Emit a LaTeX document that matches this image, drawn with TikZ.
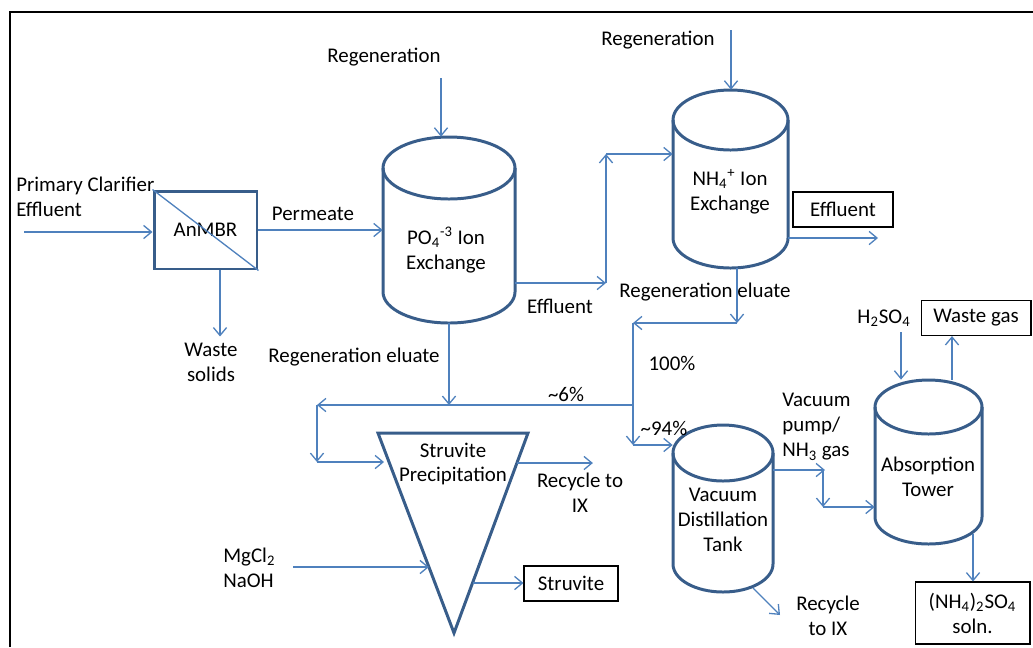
\documentclass[tikz,border=0pt]{standalone}
\usepackage{fontspec}
\setmainfont{Carlito}
\usepackage{tikz}
\usetikzlibrary{arrows.meta,positioning,calc,fit}
\definecolor{flowblue}{HTML}{4F81BD}
\definecolor{vesselblue}{HTML}{385D8A}
\tikzset{
  every node/.append style={font=\fontsize{11.9}{14.2}\selectfont},
}
\tikzset{
  flow/.style={-{Straight Barb[length=4.5pt, width=7.5pt]}, draw=flowblue, line width=0.75pt},
  vessel/.style={draw=vesselblue, line width=1.7pt},
  lbl/.style={align=center, inner sep=0pt},
  outbox/.style={draw=black, line width=0.6pt, align=center, inner sep=2pt}
}
% cylinder: name, cx, top-centre y, bottom-centre y, rx, ry
\newcommand{\vessel}[6]{%
  \draw[vessel] (#2,#3) ellipse[x radius=#5, y radius=#6];
  \draw[vessel] (#2-#5,#3) -- (#2-#5,#4) arc[start angle=180, end angle=360, x radius=#5, y radius=#6] -- (#2+#5,#3);
  \node[fit={(#2-#5,#3+#6) (#2+#5,#4-#6)}, inner sep=0pt] (#1) {};
}

\begin{document}
\begin{tikzpicture}[x=0.02cm, y=0.02cm]
\useasboundingbox (0,0) rectangle (1033,-647);
\draw[line width=1.1pt] (10,-647) -- (10,-12) -- (1033,-12);

% units
\node[vessel, minimum width=2.06cm, minimum height=1.56cm, inner sep=0pt] (anmbr) at (205.5,-230) {AnMBR};
\draw[draw=flowblue, line width=0.75pt] (anmbr.north west) -- (anmbr.south east);
\vessel{po}{449}{-168}{-292}{66}{31}
\vessel{nh}{730.5}{-120}{-238}{57.5}{30}
\vessel{vdt}{723}{-453}{-564}{50}{28}
\vessel{abs}{928.5}{-407}{-517}{53.5}{27}
\coordinate (triA) at (378,-433);
\coordinate (triB) at (528,-433);
\coordinate (triC) at (454,-633);
\draw[vessel] (triA) -- (triB) -- (triC) -- cycle;

% labels
\node[lbl, align=left, anchor=west] (pce) at (16,-197) {Primary Clarifier\\Effluent};
\node[lbl] (waste) at (211,-362) {Waste\\solids};
\node[lbl] (perm) at (313,-214) {Permeate};
\node[lbl] (regA) at (384,-57) {Regeneration};
\node[lbl] (regB) at (658,-40) {Regeneration};
\node[lbl] (poTxt) at (446,-250) {PO\textsubscript{4}\textsuperscript{-3} Ion\\Exchange};
\node[lbl] (nhTxt) at (730,-192) {NH\textsubscript{4}\textsuperscript{+} Ion\\Exchange};
\node[lbl] (effA) at (560,-306) {Effluent};
\node[outbox, minimum width=2cm, minimum height=0.7cm] (effB) at (843,-209.5) {Effluent};
\node[lbl] (eluA) at (354,-357) {Regeneration eluate};
\node[lbl] (eluB) at (705,-292) {Regeneration eluate};
\node[lbl] (pc6) at (566,-394) {\textasciitilde6\%};
\node[lbl] (pc100) at (672,-363) {100\%};
\node[lbl] (pc94) at (664,-428) {\textasciitilde94\%};
\node[lbl] (strTxt) at (453,-464) {Struvite\\Precipitation};
\node[lbl] (recA) at (580,-493) {Recycle to\\IX};
\node[lbl, align=left, anchor=west] (chem) at (223,-568) {MgCl\textsubscript{2}\\NaOH};
\node[outbox, minimum width=1.88cm, minimum height=0.7cm] (stru) at (571,-583.5) {Struvite};
\node[lbl] (vdtTxt) at (723,-520) {Vacuum\\Distillation\\Tank};
\node[lbl] (recB) at (828,-616) {Recycle\\to IX};
\node[lbl, align=left, anchor=west] (vac) at (782,-427) {Vacuum\\pump/\\NH\textsubscript{3} gas};
\node[lbl] (absTxt) at (928,-477) {Absorption\\Tower};
\node[lbl] (acid) at (884,-318) {H\textsubscript{2}SO\textsubscript{4}};
\node[outbox, minimum width=2.2cm, minimum height=0.7cm] (wgas) at (976,-318) {Waste gas};
\node[outbox, minimum width=2.3cm, minimum height=1.24cm] (amsul) at (972.5,-613) {(NH\textsubscript{4})\textsubscript{2}SO\textsubscript{4}\\soln.};

% connectors
\coordinate (feed) at (24,-232);
\draw[flow] (feed) -- (feed -| anmbr.west);
\draw[flow] ([xshift=0.29cm]anmbr.south) -- ++(0,-66);
\draw[flow] (anmbr.east) -- (anmbr.east -| po.west);
\coordinate (regAin) at (441,-78);
\draw[flow] (regAin) -- (regAin |- po.north);
\coordinate (j1) at (606,-283);
\coordinate (j2) at (606,-154);
\draw[flow] (j1 -| po.east) -- (j1);
\draw[flow] (j1) -- (j2);
\draw[flow] (j2) -- (j2 -| nh.west);
\coordinate (regBin) at (731,-30);
\draw[flow] (regBin) -- (regBin |- nh.north);
\coordinate (effOut) at (878,-238);
\draw[flow] (effOut -| nh.east) -- (effOut);
\coordinate (j3) at (737,-323);
\coordinate (j4) at (633,-323);
\coordinate (j5) at (633,-445);
\draw[flow] (j3 |- nh.south) -- (j3);
\draw[flow] (j3) -- (j4);
\draw[flow] (j4) -- (j5);
\draw[flow] (j5) -- (j5 -| vdt.west);
\coordinate (j6) at (633,-405);
\coordinate (j7) at (317,-405);
\coordinate (j8) at (317,-462);
\coordinate (strIn) at (384,-462);
\draw[flow] (j6) -- (j7);
\draw[flow] (j7) -- (j8);
\draw[flow] (j8) -- (strIn);
\draw[flow] (po.south) -- (po.south |- j6);
\coordinate (recAs) at ($(triB)!0.15!(triC)$);
\draw[flow] (recAs) -- ++(76,0);
\coordinate (chemOut) at (293,-567);
\coordinate (chemIn) at ($(triA)!0.67!(triC)$);
\draw[flow] (chemOut) -- (chemOut -| chemIn);
\coordinate (struOut) at ($(triB)!0.75!(triC)$);
\draw[flow] (struOut) -- (struOut -| stru.west);
\coordinate (recBs) at (753,-588);
\coordinate (recBe) at (780,-615);
\draw[flow] (recBs) -- (recBe);
\coordinate (j9) at (823,-470);
\coordinate (j10) at (823,-507);
\draw[flow] (j9 -| vdt.east) -- ([xshift=0.04cm]j9);
\draw[flow] (j9) -- (j10);
\draw[flow] (j10) -- (j10 -| abs.west);
\coordinate (acidIn) at (901,-332);
\draw[flow] (acidIn) -- (acidIn |- abs.north);
\coordinate (gasOut) at (952,-380);
\draw[flow] (gasOut) -- (gasOut |- wgas.south);
\coordinate (aOut) at (973,-534);
\draw[flow] (aOut) -- (aOut |- amsul.north);
\end{tikzpicture}
\end{document}
